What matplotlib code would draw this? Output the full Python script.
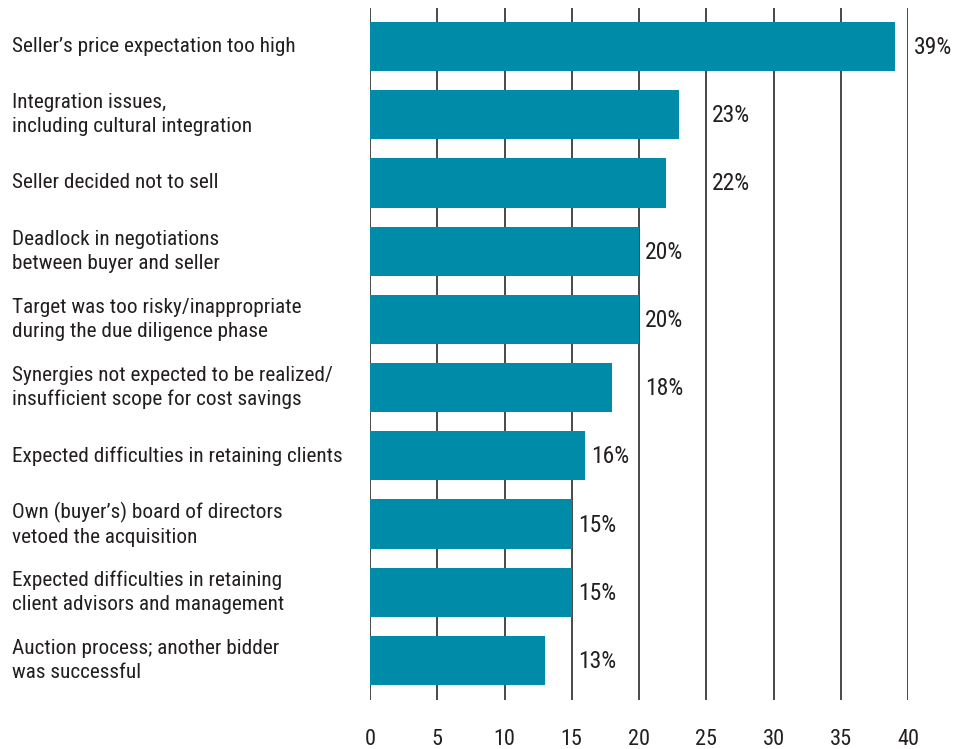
import matplotlib.pyplot as plt
from matplotlib import font_manager

# condensed face if we have one
names = set(f.name for f in font_manager.fontManager.ttflist)
fam = 'DejaVu Sans'
for cand in ['Liberation Sans Narrow', 'Roboto Condensed', 'DejaVu Sans Condensed',
             'Open Sans Condensed', 'Noto Sans Condensed']:
    if cand in names:
        fam = cand
        break
plt.rcParams['font.family'] = [fam, 'DejaVu Sans']

reasons = [
    "Seller\u2019s price expectation too high",
    "Integration issues,\nincluding cultural integration",
    "Seller decided not to sell",
    "Deadlock in negotiations\nbetween buyer and seller",
    "Target was too risky/inappropriate\nduring the due diligence phase",
    "Synergies not expected to be realized/\ninsufficient scope for cost savings",
    "Expected difficulties in retaining clients",
    "Own (buyer\u2019s) board of directors\nvetoed the acquisition",
    "Expected difficulties in retaining\nclient advisors and management",
    "Auction process; another bidder\nwas successful",
]
shares = [39, 23, 22, 20, 20, 18, 16, 15, 15, 13]
ticks = [0, 5, 10, 15, 20, 25, 30, 35, 40]

bar_col = '#008ca8'
ink = '#231f20'

fig = plt.figure(figsize=(9.69, 7.49), dpi=100)
ax = fig.add_axes([370/969, 1 - 700/749, (908-370)/969, (700-8)/749])

pos = list(range(len(shares)))
ax.barh(pos, shares, height=0.72, color=bar_col, zorder=3)

for t in ticks:
    ax.axvline(t, color='#3a3a3a', lw=1.3, zorder=1)

ax.set_xlim(0, 40)
ax.set_ylim(len(shares) - 1 + 0.58, -0.565)
ax.set_xticks(ticks)
ax.tick_params(axis='x', length=0, pad=21, labelsize=16, labelcolor=ink)
ax.set_yticks([])
for s in ax.spines.values():
    s.set_visible(False)

# value labels: nudge past a gridline rather than sit across it
gap = 0.45
width = 2.9
for i, v in enumerate(shares):
    x = v + gap
    for t in ticks:
        if x < t < x + width:
            x = t + gap
    ax.text(x, i + 0.015, f"{v}%", va='center', ha='left', fontsize=17,
            color=ink, clip_on=False)

for i, lab in enumerate(reasons):
    ax.text(12/969, ax.transData.transform((0, i))[1] / 749, lab,
            transform=fig.transFigure, ha='left', va='center',
            fontsize=15.3, color=ink, linespacing=1.33)

fig.savefig('out.png', dpi=100)
